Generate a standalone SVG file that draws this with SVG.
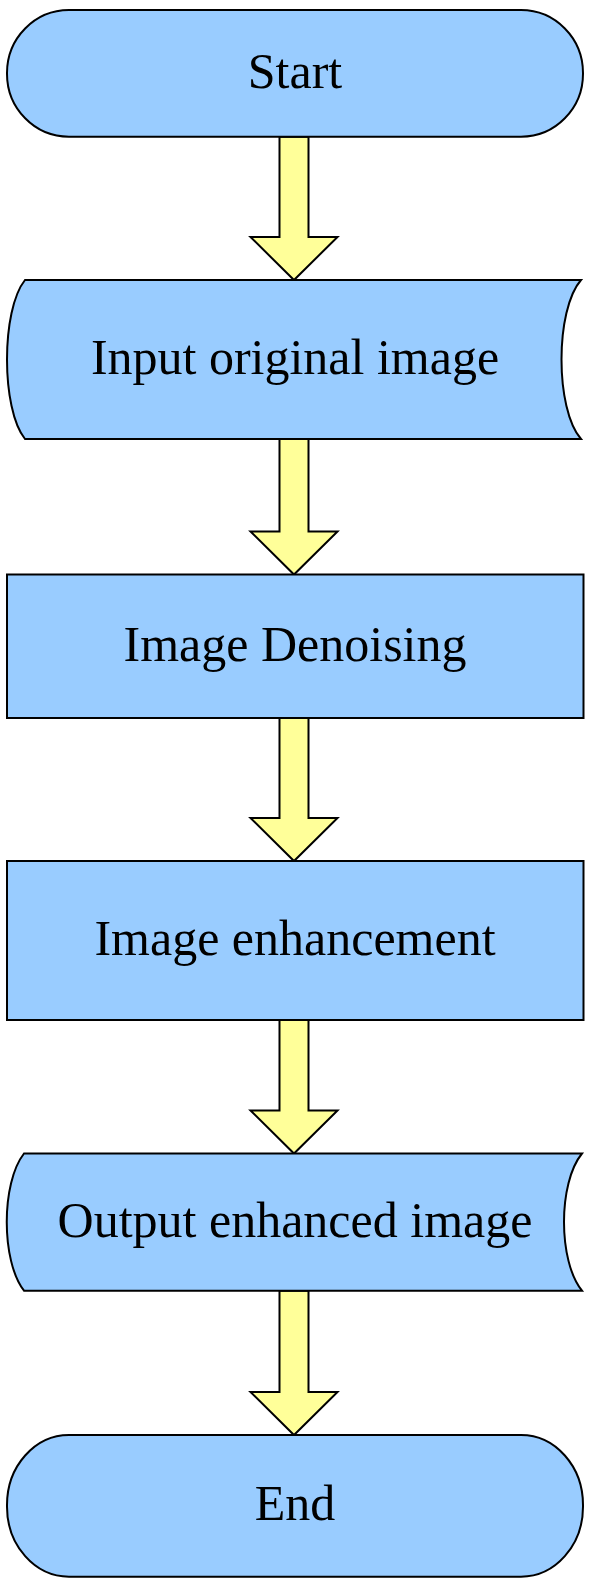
<svg xmlns="http://www.w3.org/2000/svg" width="590" height="1587" viewBox="0 0 590 1587">
<style>
.node{fill:#99CCFF;stroke:#000;stroke-width:2}
.arrow{fill:#FFFF99;stroke:#000;stroke-width:2;stroke-linejoin:miter}
.lbl{font-family:"Liberation Serif","Times New Roman",serif;font-size:50px;fill:#000;text-anchor:middle}
</style>
<rect width="590" height="1587" fill="#fff"/>
<g id="connectors">
<path class="arrow" d="M279.5,136.7 L308.5,136.7 L308.5,237 L337.5,237 L294,280 L250.5,237 L279.5,237 Z"/>
<path class="arrow" d="M279.5,439 L308.5,439 L308.5,531.5 L337.5,531.5 L294,574.5 L250.5,531.5 L279.5,531.5 Z"/>
<path class="arrow" d="M279.5,718 L308.5,718 L308.5,818 L337.5,818 L294,861 L250.5,818 L279.5,818 Z"/>
<path class="arrow" d="M279.5,1020 L308.5,1020 L308.5,1110.5 L337.5,1110.5 L294,1153.5 L250.5,1110.5 L279.5,1110.5 Z"/>
<path class="arrow" d="M279.5,1290.7 L308.5,1290.7 L308.5,1392 L337.5,1392 L294,1435 L250.5,1392 L279.5,1392 Z"/>
</g>
<g id="start">
<rect class="node" x="7" y="10" width="576" height="126.7" rx="62" ry="63"/>
<text class="lbl" x="295" y="88">Start</text>
</g>
<g id="input">
<path class="node" d="M25,280 L581,280 C555,310 555,409 581,439 L25,439 C1,409 1,310 25,280 Z"/>
<text class="lbl" x="295" y="374">Input original image</text>
</g>
<g id="denoise">
<rect class="node" x="7" y="574.5" width="576.5" height="143.5"/>
<text class="lbl" x="295" y="661">Image Denoising</text>
</g>
<g id="enhance">
<rect class="node" x="7" y="861" width="576.5" height="159"/>
<text class="lbl" x="295" y="955">Image enhancement</text>
</g>
<g id="output">
<path class="node" d="M24,1153.5 L582,1153.5 C558,1183 558,1261 582,1290.7 L24,1290.7 C1,1261 1,1183 24,1153.5 Z"/>
<text class="lbl" x="295" y="1236.5">Output enhanced image</text>
</g>
<g id="end">
<rect class="node" x="7" y="1435" width="576" height="141.7" rx="62" ry="70"/>
<text class="lbl" x="295" y="1520">End</text>
</g>
</svg>
